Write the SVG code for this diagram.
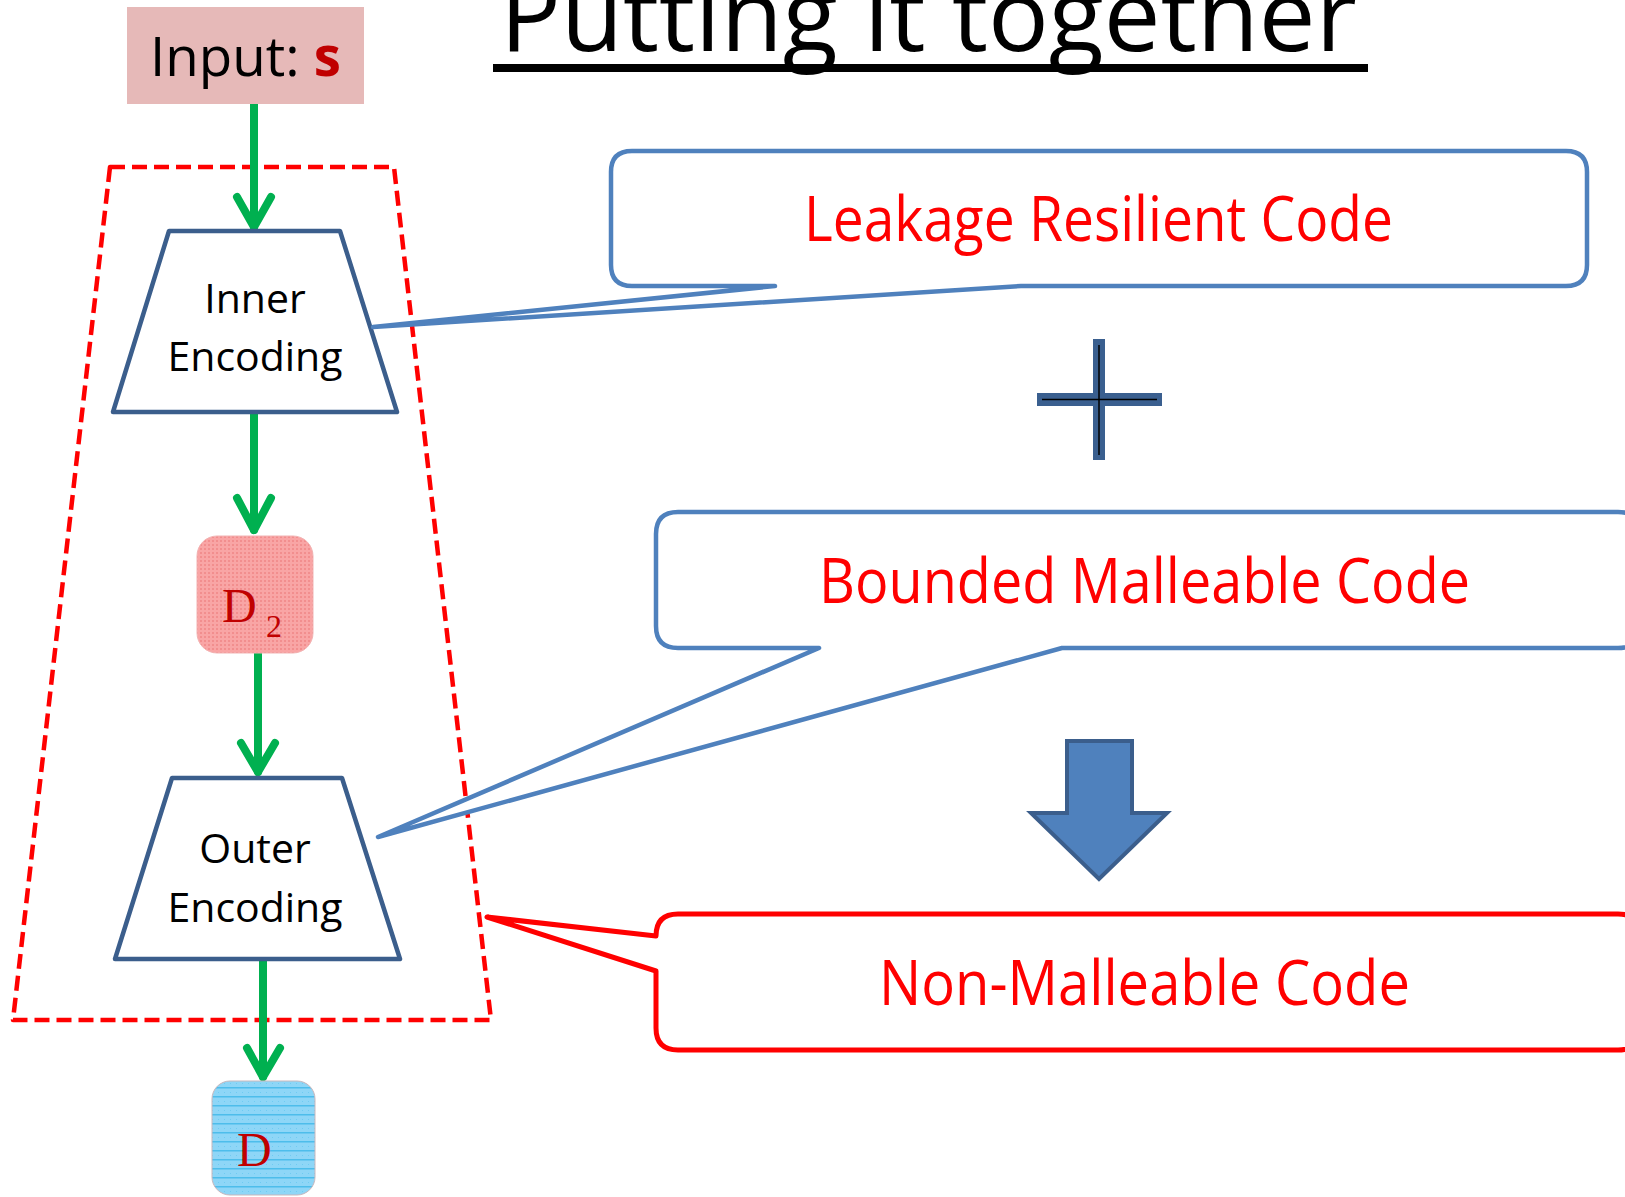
<svg xmlns="http://www.w3.org/2000/svg" width="1625" height="1197" viewBox="0 0 1625 1197">
<style>
.flow{fill:none;stroke:#00B050;stroke-width:8;stroke-linecap:round;stroke-linejoin:round}
.trap{fill:#FFFFFF;stroke:#3B5E8C;stroke-width:4.5;stroke-linejoin:round}
.lbl{font-family:"Open Sans","Liberation Sans",sans-serif;font-size:41px;fill:#000000;text-anchor:middle}
.callout{fill:#FFFFFF;stroke:#4F81BD;stroke-width:4.5;stroke-linejoin:round}
.ctext{font-family:"Open Sans","Liberation Sans",sans-serif;font-size:62px;fill:#FF0000}
.mono{font-family:"Liberation Serif","DejaVu Serif",serif;fill:#C00000}
</style>
<defs>
<pattern id="pinkdots" width="4" height="4" patternUnits="userSpaceOnUse">
<rect width="4" height="4" fill="#F9A5A5"/>
<rect width="2" height="2" fill="#F28E8E"/>
</pattern>
<pattern id="bluelines" width="6" height="9" patternUnits="userSpaceOnUse">
<rect width="6" height="9" fill="#8ED6F7"/>
<rect y="7" width="6" height="1.5" fill="#4DBDEB"/>
<rect x="2" y="3" width="1" height="1" fill="#6FCBF2"/>
</pattern>
</defs>

<g id="title">
<text x="500" y="51" font-family="'Open Sans','Liberation Sans',sans-serif" font-size="100" textLength="857" lengthAdjust="spacingAndGlyphs" fill="#000000">Putting it together</text>
<rect x="493" y="64" width="875" height="8" fill="#000000"/>
</g>

<g id="outer-boundary">
<polygon points="110,167 394,167 491,1020 13,1020" fill="none" stroke="#FF0000" stroke-width="4.5" stroke-dasharray="15,7" stroke-linejoin="round"/>
</g>

<g id="connectors">
<path class="flow" d="M254,104 V227"/>
<path class="flow" d="M237,197 L254,227 L271,197"/>
<path class="flow" d="M254,412 V530"/>
<path class="flow" d="M237,498 L254,530 L271,498"/>
<path class="flow" d="M258,653 V772"/>
<path class="flow" d="M241,743 L258,772 L275,743"/>
<path class="flow" d="M263,959 V1077"/>
<path class="flow" d="M247,1048 L263,1077 L280,1048"/>
</g>

<g id="input">
<rect x="127" y="7" width="237" height="97" fill="#E6B9B8"/>
<text x="150" y="76" font-family="'Open Sans','Liberation Sans',sans-serif" font-size="55" textLength="191" lengthAdjust="spacingAndGlyphs" fill="#000000">Input: <tspan font-weight="bold" fill="#C00000">s</tspan></text>
</g>

<g id="inner-encoding">
<polygon class="trap" points="169,231 340,231 397,412 113,412"/>
<text class="lbl" x="255" y="313">Inner</text>
<text class="lbl" x="255" y="371">Encoding</text>
</g>

<g id="d2">
<rect x="197" y="536" width="116" height="117" rx="20" fill="url(#pinkdots)" stroke="#F2B3B3" stroke-width="1"/>
<text class="mono" x="222" y="622" font-size="48">D</text>
<text class="mono" x="266" y="637" font-size="32">2</text>
</g>

<g id="outer-encoding">
<polygon class="trap" points="172,778 342,778 400,959 115,959"/>
<text class="lbl" x="255" y="863">Outer</text>
<text class="lbl" x="255" y="922">Encoding</text>
</g>

<g id="d">
<rect x="212" y="1081" width="103" height="114" rx="18" fill="url(#bluelines)" stroke="#C9B7BC" stroke-width="1"/>
<text class="mono" x="237" y="1166" font-size="48">D</text>
</g>

<g id="leakage-callout">
<path class="callout" d="M632,151 H1566 Q1587,151 1587,172 V265 Q1587,286 1566,286 H1021 L373,327 L775,286 H632 Q611,286 611,265 V172 Q611,151 632,151 Z"/>
<text class="ctext" x="804" y="241" textLength="589" lengthAdjust="spacingAndGlyphs">Leakage Resilient Code</text>
</g>

<g id="plus">
<rect x="1093" y="339" width="12" height="121" fill="#3A5F8F"/>
<rect x="1037" y="393" width="125" height="13" fill="#3A5F8F"/>
<line x1="1099" y1="345" x2="1099" y2="455" stroke="#000000" stroke-width="1.5"/>
<line x1="1042" y1="399.5" x2="1157" y2="399.5" stroke="#000000" stroke-width="1.5"/>
</g>

<g id="bounded-callout">
<path class="callout" d="M678,512 H1618 Q1640,512 1640,534 V626 Q1640,648 1618,648 H1062 L378,837 L819,648 H678 Q656,648 656,626 V534 Q656,512 678,512 Z"/>
<text class="ctext" x="819" y="603" textLength="651" lengthAdjust="spacingAndGlyphs">Bounded Malleable Code</text>
</g>

<g id="down-arrow">
<polygon points="1067,741 1132,741 1132,813 1167,813 1099,879 1031,813 1067,813" fill="#4F81BD" stroke="#3B5E8C" stroke-width="4"/>
</g>

<g id="nonmalleable-callout">
<path d="M678,914 H1618 Q1640,914 1640,936 V1028 Q1640,1050 1618,1050 H678 Q656,1050 656,1028 V971 L487,917 L656,936 Q656,914 678,914 Z" fill="#FFFFFF" stroke="#FF0000" stroke-width="5" stroke-linejoin="round"/>
<text class="ctext" x="879" y="1005" textLength="531" lengthAdjust="spacingAndGlyphs">Non-Malleable Code</text>
</g>
</svg>
